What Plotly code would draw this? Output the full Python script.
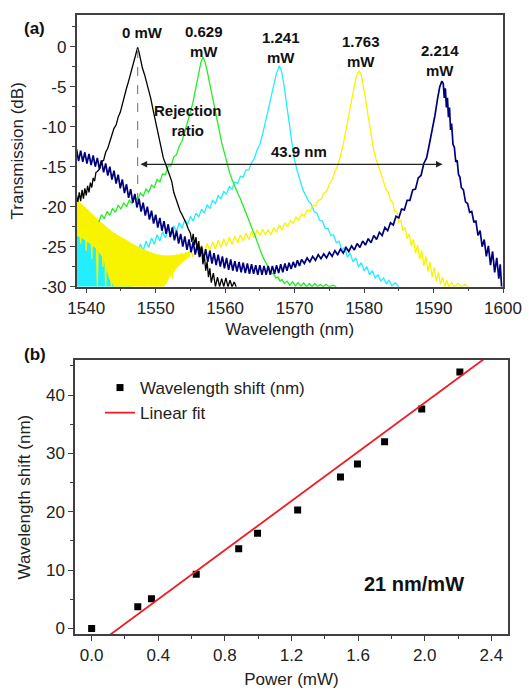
import plotly.graph_objects as go

# ---------------- Panel (a): transmission spectra (wavelength nm, dB) ----------------
black_0mW = [
    (1538.6, -18.6), (1538.8, -19.4), (1539.0, -18.2), (1539.2, -19.3), (1539.4, -17.9), (1539.6, -19.0),
    (1539.8, -17.7), (1540.0, -18.6), (1540.2, -17.4), (1540.4, -18.2), (1540.6, -17.0), (1540.8, -17.6),
    (1541.0, -16.4), (1541.2, -16.8), (1541.4, -15.7), (1541.6, -15.6), (1541.9, -15.3), (1542.2, -14.4),
    (1542.5, -14.2), (1542.8, -13.2), (1543.1, -12.7), (1543.4, -11.9), (1543.7, -11.2), (1544.0, -10.2),
    (1544.3, -9.8), (1544.6, -8.8), (1544.9, -8.2), (1545.2, -7.1), (1545.5, -6.3), (1545.8, -5.2),
    (1546.1, -4.3), (1546.4, -3.3), (1546.7, -2.2), (1547.0, -1.2), (1547.2, -0.6), (1547.4, -0.1),
    (1547.6, -0.7), (1547.8, -1.6), (1548.1, -2.7), (1548.4, -3.5), (1548.7, -4.4), (1549.0, -5.3),
    (1549.3, -6.5), (1549.6, -7.8), (1549.9, -9.1), (1550.2, -10.4), (1550.5, -11.6), (1550.8, -12.8),
    (1551.1, -13.9), (1551.4, -14.6), (1551.7, -15.4), (1552.0, -16.1), (1552.3, -16.8), (1552.6, -18.2),
    (1552.9, -19.0), (1553.2, -19.8), (1553.5, -20.5), (1553.8, -21.0), (1554.1, -21.5), (1554.4, -22.1),
    (1554.7, -22.8), (1555.0, -23.3), (1555.2, -24.4), (1555.4, -23.4), (1555.6, -24.8), (1555.8, -23.8),
    (1556.0, -25.4), (1556.2, -24.3), (1556.4, -26.2), (1556.6, -25.0), (1556.8, -27.2), (1557.0, -26.0),
    (1557.2, -28.0), (1557.4, -26.9), (1557.6, -28.8), (1557.8, -27.7), (1558.0, -29.5), (1558.3, -28.3),
    (1558.6, -30.0), (1558.9, -28.8), (1559.2, -30.0), (1559.5, -29.0), (1559.8, -30.0), (1560.1, -28.9),
    (1560.4, -30.0), (1560.7, -29.2), (1561.0, -30.0), (1561.3, -29.4), (1561.6, -30.0),
]

green_0629mW = [
    (1541.8, -21.9), (1542.2, -21.0), (1542.6, -21.5), (1543.0, -20.6), (1543.4, -21.1), (1543.8, -20.2),
    (1544.2, -20.7), (1544.6, -19.8), (1545.0, -20.3), (1545.4, -19.5), (1545.8, -20.0), (1546.2, -19.2),
    (1546.6, -19.6), (1547.0, -18.8), (1547.4, -19.2), (1547.8, -18.3), (1548.2, -18.7), (1548.6, -17.8),
    (1549.0, -18.2), (1549.4, -17.3), (1549.8, -17.6), (1550.2, -16.6), (1550.6, -16.9), (1551.0, -15.9),
    (1551.4, -16.0), (1551.8, -14.9), (1552.2, -14.9), (1552.6, -13.8), (1553.0, -13.5), (1553.4, -12.4),
    (1553.8, -11.8), (1554.2, -10.6), (1554.6, -9.6), (1555.0, -8.2), (1555.4, -6.8), (1555.8, -5.0),
    (1556.2, -3.3), (1556.5, -2.0), (1556.8, -1.3), (1557.1, -1.9), (1557.4, -3.0), (1557.7, -4.3),
    (1558.0, -5.6), (1558.3, -7.0), (1558.6, -8.4), (1558.9, -9.6), (1559.2, -10.9), (1559.5, -12.0),
    (1559.8, -13.0), (1560.1, -14.0), (1560.4, -14.9), (1560.7, -15.9), (1561.0, -16.6), (1561.3, -17.3),
    (1561.6, -17.9), (1561.9, -18.5), (1562.2, -19.0), (1562.5, -19.7), (1562.8, -20.4), (1563.1, -21.0),
    (1563.4, -21.7), (1563.7, -22.3), (1564.0, -23.0), (1564.3, -23.6), (1564.6, -24.4), (1564.9, -25.1),
    (1565.2, -25.8), (1565.5, -26.4), (1565.8, -27.0), (1566.1, -27.4), (1566.4, -27.9), (1566.7, -28.3),
    (1567.0, -28.4), (1567.3, -28.9), (1567.6, -28.8), (1567.9, -29.3), (1568.2, -29.1), (1568.5, -29.6),
    (1568.9, -29.3), (1569.3, -29.8), (1569.7, -29.4), (1570.1, -29.9), (1570.5, -29.5), (1570.9, -29.9),
    (1571.3, -29.5), (1571.7, -30.0), (1572.1, -29.6), (1572.5, -30.0), (1572.9, -29.6), (1573.3, -30.0),
    (1573.7, -29.7), (1574.1, -30.0), (1574.5, -29.7), (1575.0, -30.0), (1575.5, -29.8), (1576.0, -30.0),
]

cyan_1241mW = [
    (1538.6, -23.0), (1538.8, -25.0), (1539.0, -22.6), (1539.2, -24.8), (1539.4, -22.9), (1539.6, -25.2),
    (1539.8, -23.3), (1540.0, -25.6), (1540.2, -23.6), (1540.4, -25.9), (1540.6, -23.9), (1540.8, -26.3),
    (1541.0, -24.2), (1541.2, -26.7), (1541.4, -24.5), (1541.6, -27.0), (1541.8, -24.8), (1542.0, -27.3),
    (1542.2, -25.0), (1542.4, -27.5), (1542.6, -25.3), (1542.8, -27.8), (1543.0, -25.6), (1543.3, -28.0),
    (1543.6, -25.9), (1543.9, -27.9), (1544.2, -26.1), (1544.5, -27.6), (1544.8, -26.0), (1545.1, -27.3),
    (1545.4, -25.8), (1545.8, -26.9), (1546.2, -25.5), (1546.6, -26.4), (1547.0, -25.1), (1547.4, -25.9),
    (1547.8, -24.7), (1548.2, -25.5), (1548.6, -24.3), (1549.0, -25.1), (1549.4, -23.9), (1549.8, -24.7),
    (1550.2, -23.5), (1550.6, -24.3), (1551.0, -23.1), (1551.4, -23.9), (1551.8, -22.7), (1552.2, -23.5),
    (1552.6, -22.4), (1553.0, -23.1), (1553.4, -22.0), (1553.8, -22.7), (1554.2, -21.6), (1554.6, -22.2),
    (1555.0, -21.2), (1555.4, -21.8), (1555.8, -20.8), (1556.2, -21.3), (1556.6, -20.3), (1557.0, -20.8),
    (1557.4, -19.8), (1557.8, -20.2), (1558.2, -19.2), (1558.6, -19.6), (1559.0, -18.6), (1559.4, -19.0),
    (1559.8, -18.1), (1560.2, -18.4), (1560.6, -17.5), (1561.0, -17.8), (1561.4, -16.9), (1561.8, -17.1),
    (1562.2, -16.2), (1562.6, -16.3), (1563.0, -15.4), (1563.4, -15.4), (1563.8, -14.5), (1564.2, -14.0),
    (1564.6, -12.9), (1565.0, -12.2), (1565.4, -10.9), (1565.8, -9.5), (1566.2, -7.9), (1566.6, -6.3),
    (1567.0, -4.7), (1567.4, -3.3), (1567.8, -2.4), (1568.1, -3.0), (1568.4, -4.4), (1568.8, -6.6),
    (1569.2, -9.4), (1569.6, -12.0), (1570.0, -14.2), (1570.4, -15.6), (1570.8, -16.8), (1571.2, -17.9),
    (1571.6, -18.6), (1572.0, -19.3), (1572.4, -19.7), (1572.8, -20.6), (1573.2, -20.8), (1573.6, -21.7),
    (1574.0, -21.8), (1574.4, -22.7), (1574.8, -22.7), (1575.2, -23.6), (1575.6, -23.5), (1576.0, -24.5),
    (1576.4, -24.3), (1576.8, -25.4), (1577.2, -25.1), (1577.6, -26.3), (1578.0, -25.8), (1578.4, -26.9),
    (1578.8, -26.4), (1579.2, -27.5), (1579.6, -27.0), (1580.0, -28.0), (1580.4, -27.5), (1580.8, -28.5),
    (1581.2, -28.0), (1581.6, -28.9), (1582.0, -28.5), (1582.4, -29.3), (1582.8, -28.9), (1583.2, -29.6),
    (1583.6, -29.2), (1584.0, -29.9), (1584.5, -29.5), (1585.0, -30.0),
]
# dense noise floor of the cyan trace at short wavelengths: (wavelength, upper edge dB); lower edge is -30
cyan_noise_top = [
    (1538.6, -22.8), (1539.5, -23.2), (1540.5, -23.8), (1541.5, -24.3), (1542.5, -24.9),
    (1543.5, -25.6), (1544.5, -26.3), (1545.5, -27.0), (1546.5, -27.6),
]

yellow_1763mW = [
    (1538.6, -19.1), (1538.8, -23.5), (1539.0, -19.4), (1539.2, -24.6), (1539.4, -19.7), (1539.6, -24.0),
    (1539.8, -20.0), (1540.0, -25.5), (1540.2, -20.4), (1540.4, -24.4), (1540.6, -20.8), (1540.8, -26.5),
    (1541.0, -21.1), (1541.2, -25.0), (1541.4, -21.4), (1541.6, -30.0), (1541.8, -21.7), (1542.0, -25.8),
    (1542.2, -22.0), (1542.4, -27.5), (1542.6, -22.3), (1542.8, -30.0), (1543.0, -22.6), (1543.2, -28.0),
    (1543.4, -22.8), (1543.6, -30.0), (1543.8, -23.1), (1544.0, -29.0), (1544.2, -23.3), (1544.4, -30.0),
    (1544.6, -23.6), (1544.8, -28.5), (1545.0, -23.8), (1545.2, -30.0), (1545.4, -24.0), (1545.6, -29.0),
    (1545.8, -24.2), (1546.0, -30.0), (1546.2, -24.4), (1546.4, -28.5), (1546.6, -24.6), (1546.8, -30.0),
    (1547.0, -24.8), (1547.2, -29.0), (1547.4, -25.0), (1547.6, -30.0), (1547.8, -25.2), (1548.0, -28.8),
    (1548.2, -25.3), (1548.4, -30.0), (1548.6, -25.5), (1548.8, -29.0), (1549.0, -25.6), (1549.2, -30.0),
    (1549.4, -25.7), (1549.6, -28.5), (1549.8, -25.9), (1550.0, -30.0), (1550.2, -26.0), (1550.4, -29.0),
    (1550.6, -26.0), (1550.8, -30.0), (1551.0, -26.1), (1551.2, -28.5), (1551.4, -26.1), (1551.6, -29.5),
    (1551.8, -26.1), (1552.0, -28.2), (1552.2, -26.1), (1552.4, -29.0), (1552.6, -26.0), (1552.8, -27.8),
    (1553.1, -25.9), (1553.4, -27.4), (1553.7, -25.8), (1554.0, -26.8), (1554.3, -25.7), (1554.6, -26.4),
    (1555.0, -25.3), (1555.4, -26.3), (1555.8, -25.0), (1556.2, -26.0), (1556.6, -24.8), (1557.0, -25.7),
    (1557.4, -24.6), (1557.8, -25.5), (1558.2, -24.4), (1558.6, -25.3), (1559.0, -24.2), (1559.4, -25.1),
    (1559.8, -24.0), (1560.2, -24.9), (1560.6, -23.8), (1561.0, -24.7), (1561.4, -23.7), (1561.8, -24.5),
    (1562.2, -23.5), (1562.6, -24.3), (1563.0, -23.3), (1563.4, -24.1), (1563.8, -23.1), (1564.2, -23.9),
    (1564.6, -22.9), (1565.0, -23.6), (1565.4, -22.8), (1565.8, -23.5), (1566.2, -22.9), (1566.6, -23.5),
    (1567.0, -22.6), (1567.4, -23.2), (1567.8, -22.3), (1568.2, -22.9), (1568.6, -22.0), (1569.0, -22.5),
    (1569.4, -21.7), (1569.8, -22.1), (1570.2, -21.3), (1570.6, -21.7), (1571.0, -20.9), (1571.4, -21.2),
    (1571.8, -20.4), (1572.2, -20.6), (1572.6, -19.8), (1573.0, -19.9), (1573.4, -19.2), (1573.8, -19.1),
    (1574.2, -18.3), (1574.6, -18.1), (1575.0, -17.2), (1575.4, -16.6), (1575.8, -15.6), (1576.2, -14.9),
    (1576.6, -13.6), (1577.0, -12.2), (1577.4, -10.4), (1577.8, -8.4), (1578.2, -6.6), (1578.6, -4.9),
    (1578.9, -3.7), (1579.3, -3.0), (1579.6, -3.6), (1579.9, -4.8), (1580.2, -6.4), (1580.5, -8.2),
    (1580.8, -10.0), (1581.1, -11.6), (1581.4, -13.0), (1581.7, -14.0), (1582.0, -14.8), (1582.3, -15.5),
    (1582.6, -16.5), (1582.9, -17.0), (1583.2, -17.9), (1583.5, -18.2), (1583.8, -19.2), (1584.1, -19.4),
    (1584.4, -20.6), (1584.7, -20.6), (1585.0, -21.9), (1585.3, -21.7), (1585.6, -23.0), (1585.9, -22.6),
    (1586.2, -24.0), (1586.5, -23.4), (1586.8, -24.9), (1587.1, -24.1), (1587.4, -25.8), (1587.7, -24.8),
    (1588.0, -26.6), (1588.3, -25.5), (1588.6, -27.4), (1588.9, -26.2), (1589.2, -28.1), (1589.5, -26.9),
    (1589.8, -28.8), (1590.1, -27.6), (1590.4, -29.3), (1590.7, -28.2), (1591.0, -29.7), (1591.3, -28.8),
    (1591.6, -30.0), (1591.9, -29.2), (1592.2, -30.0), (1592.6, -29.5), (1593.0, -30.0), (1593.5, -29.6),
    (1594.0, -30.0), (1594.5, -29.7), (1595.0, -30.0),
]
# dense noise band of the yellow trace at short wavelengths: (wavelength, upper dB, lower dB)
yellow_noise_band = [
    (1538.6, -19.2, -23.6), (1539.5, -19.8, -24.0), (1540.5, -20.6, -24.6), (1541.5, -21.4, -25.3),
    (1542.5, -22.2, -26.5), (1543.3, -22.8, -29.0), (1544.0, -23.3, -30.0), (1545.5, -24.0, -30.0),
    (1547.0, -24.8, -30.0), (1548.5, -25.4, -30.0), (1550.0, -25.9, -30.0), (1551.2, -26.1, -30.0),
    (1552.2, -26.1, -28.6), (1553.2, -26.0, -27.5), (1554.2, -25.8, -26.7), (1555.0, -25.5, -26.2),
]

navy_2214mW = [
    (1538.6, -12.8), (1538.9, -14.3), (1539.2, -13.0), (1539.5, -14.4), (1539.8, -13.2), (1540.1, -14.6),
    (1540.4, -13.4), (1540.7, -14.8), (1541.0, -13.6), (1541.3, -15.0), (1541.6, -13.9), (1541.9, -15.3),
    (1542.2, -14.2), (1542.5, -15.7), (1542.8, -14.6), (1543.1, -16.1), (1543.4, -15.0), (1543.7, -16.6),
    (1544.0, -15.5), (1544.3, -17.1), (1544.6, -16.0), (1544.9, -17.7), (1545.2, -16.6), (1545.5, -18.3),
    (1545.8, -17.2), (1546.1, -18.9), (1546.4, -17.8), (1546.7, -19.5), (1547.0, -18.4), (1547.3, -20.1),
    (1547.6, -19.0), (1547.9, -20.6), (1548.2, -19.5), (1548.5, -21.1), (1548.8, -20.0), (1549.1, -21.6),
    (1549.4, -20.5), (1549.7, -22.1), (1550.0, -21.0), (1550.3, -22.6), (1550.6, -21.4), (1550.9, -23.0),
    (1551.2, -21.8), (1551.5, -23.4), (1551.8, -22.2), (1552.1, -23.8), (1552.4, -22.6), (1552.7, -24.2),
    (1553.0, -23.0), (1553.3, -24.6), (1553.6, -23.4), (1553.9, -25.0), (1554.2, -23.7), (1554.5, -25.4),
    (1554.8, -24.1), (1555.1, -25.7), (1555.4, -24.4), (1555.7, -26.0), (1556.0, -24.7), (1556.3, -26.3),
    (1556.6, -25.0), (1556.9, -26.6), (1557.2, -25.3), (1557.5, -26.9), (1557.8, -25.5), (1558.1, -27.1),
    (1558.4, -25.8), (1558.7, -27.3), (1559.0, -26.0), (1559.3, -27.5), (1559.6, -26.2), (1559.9, -27.7),
    (1560.2, -26.4), (1560.5, -27.9), (1560.8, -26.6), (1561.1, -28.0), (1561.4, -26.8), (1561.7, -28.1),
    (1562.0, -26.9), (1562.3, -28.2), (1562.6, -27.0), (1562.9, -28.3), (1563.2, -27.1), (1563.5, -28.4),
    (1563.8, -27.2), (1564.1, -28.4), (1564.4, -27.3), (1564.7, -28.5), (1565.0, -27.3), (1565.3, -28.5),
    (1565.6, -27.4), (1565.9, -28.5), (1566.2, -27.4), (1566.5, -28.5), (1566.8, -27.4), (1567.1, -28.4),
    (1567.4, -27.3), (1567.7, -28.3), (1568.0, -27.2), (1568.3, -28.2), (1568.6, -27.1), (1568.9, -28.0),
    (1569.2, -27.0), (1569.5, -27.8), (1569.8, -26.9), (1570.1, -27.6), (1570.4, -26.7), (1570.7, -27.4),
    (1571.0, -26.6), (1571.4, -27.1), (1571.8, -26.4), (1572.2, -26.9), (1572.6, -26.2), (1573.0, -26.7),
    (1573.4, -26.0), (1573.8, -26.5), (1574.2, -25.9), (1574.6, -26.4), (1575.0, -25.7), (1575.4, -26.2),
    (1575.8, -25.5), (1576.2, -26.0), (1576.6, -25.3), (1577.0, -25.8), (1577.4, -25.1), (1577.8, -25.6),
    (1578.2, -24.9), (1578.6, -25.4), (1579.0, -24.6), (1579.4, -25.1), (1579.8, -24.3), (1580.2, -24.8),
    (1580.6, -24.0), (1581.0, -24.5), (1581.4, -23.6), (1581.8, -24.1), (1582.2, -23.2), (1582.6, -23.6),
    (1583.0, -22.6), (1583.4, -23.0), (1583.8, -22.0), (1584.2, -22.3), (1584.6, -21.2), (1585.0, -21.4),
    (1585.4, -20.3), (1585.8, -20.4), (1586.2, -19.2), (1586.6, -19.2), (1587.0, -17.9), (1587.4, -17.8),
    (1587.8, -16.4), (1588.2, -16.1), (1588.6, -14.6), (1589.0, -13.9), (1589.4, -12.2), (1589.8, -10.6),
    (1590.2, -8.6), (1590.6, -6.4), (1590.9, -5.0), (1591.2, -4.3), (1591.4, -4.6), (1591.55, -6.4),
    (1591.7, -5.2), (1591.85, -7.6), (1592.0, -6.4), (1592.15, -8.8), (1592.3, -7.6), (1592.45, -10.4),
    (1592.6, -9.6), (1592.8, -12.2), (1593.0, -12.6), (1593.2, -14.4), (1593.4, -14.2), (1593.6, -16.0),
    (1593.8, -16.3), (1594.0, -17.6), (1594.3, -17.9), (1594.6, -19.4), (1594.9, -19.6), (1595.2, -20.7),
    (1595.5, -20.6), (1595.8, -21.9), (1596.1, -21.8), (1596.4, -23.6), (1596.7, -23.0), (1597.0, -25.0),
    (1597.3, -24.1), (1597.6, -26.2), (1597.9, -24.9), (1598.2, -27.3), (1598.5, -25.6), (1598.8, -28.2),
    (1599.1, -26.4), (1599.4, -29.0), (1599.6, -27.2), (1599.8, -30.0),
]

spectra_names = ["0 mW", "0.629 mW", "1.241 mW", "1.763 mW", "2.214 mW"]
spectra_colors = ["#000000", "#22ee22", "#22eeff", "#f8f400", "#00007e"]
spectra_widths = [1.3, 1.3, 1.3, 1.3, 1.7]
spectra_data = [black_0mW, green_0629mW, cyan_1241mW, yellow_1763mW, navy_2214mW]
draw_order = [2, 3, 1, 4, 0]   # cyan, yellow, green, navy, black on top

# peak labels: (text, wavelength, dB)
peak_labels = [("0 mW", 1548.1, 1.75), ("0.629<br>mW", 1556.9, 0.7), ("1.241<br>mW", 1568.1, -0.1),
               ("1.763<br>mW", 1579.5, -0.65), ("2.214<br>mW", 1591.0, -1.7)]
shift_arrow_nm = [1547.6, 1591.3]
shift_arrow_db = -14.7
rejection_line_nm = 1547.4
rejection_line_db = [-0.3, -19.0]

a_xticks = [1540, 1550, 1560, 1570, 1580, 1590, 1600]
a_yticks = [0, -5, -10, -15, -20, -25, -30]
a_yticklabels = ["0", "-5", "-10", "-15", "-20", "-25", "-30"]

# ---------------- Panel (b): wavelength shift vs power ----------------
power_mW = [0.0, 0.277, 0.359, 0.628, 0.883, 0.996, 1.237, 1.494, 1.596, 1.759, 1.982, 2.211]
shift_nm = [0.0, 3.7, 5.1, 9.3, 13.65, 16.3, 20.3, 25.95, 28.2, 32.0, 37.6, 43.96]
fit_power = [0.10, 2.40]
fit_shift = [-1.3, 47.1]
b_xticks = [0.0, 0.4, 0.8, 1.2, 1.6, 2.0, 2.4]
b_yticks = [0, 10, 20, 30, 40]

FONT = "Liberation Sans, Arial, sans-serif"
W, H = 529, 692
TXT = "#222222"

fig = go.Figure()

# cyan noise floor (filled band down to the -30 dB axis)
fig.add_trace(go.Scatter(
    x=[p[0] for p in cyan_noise_top] + [p[0] for p in reversed(cyan_noise_top)],
    y=[p[1] for p in cyan_noise_top] + [-30.0] * len(cyan_noise_top),
    fill="toself", fillcolor=spectra_colors[2], mode="none", showlegend=False,
    hoverinfo="skip", xaxis="x", yaxis="y"))

for i in draw_order:
    if i == 3:
        band = yellow_noise_band
        fig.add_trace(go.Scatter(
            x=[b[0] for b in band] + [b[0] for b in reversed(band)],
            y=[b[1] for b in band] + [b[2] for b in reversed(band)],
            fill="toself", fillcolor=spectra_colors[3], mode="none", showlegend=False,
            hoverinfo="skip", xaxis="x", yaxis="y"))
    pts = spectra_data[i]
    fig.add_trace(go.Scatter(
        x=[p[0] for p in pts], y=[p[1] for p in pts], mode="lines",
        line=dict(color=spectra_colors[i], width=spectra_widths[i]), name=spectra_names[i],
        showlegend=False, xaxis="x", yaxis="y"))

fig.add_trace(go.Scatter(
    x=power_mW, y=shift_nm, mode="markers", name="Wavelength shift (nm)",
    marker=dict(symbol="square", size=7, color="black"), xaxis="x2", yaxis="y2"))
fig.add_trace(go.Scatter(
    x=fit_power, y=fit_shift, mode="lines", name="Linear fit",
    line=dict(color="#ee1c24", width=1.8), xaxis="x2", yaxis="y2"))

axis_common = dict(showline=True, linecolor="#404040", linewidth=1.5, mirror=True,
                   ticks="outside", ticklen=5, tickwidth=1.2, tickcolor="#404040",
                   showgrid=False, zeroline=False, automargin=False,
                   tickfont=dict(family=FONT, size=17, color=TXT),
                   title_font=dict(family=FONT, size=17, color=TXT))
minor_common = dict(ticks="outside", ticklen=3, tickcolor="#404040", tickwidth=1.2)

fig.update_layout(
    width=W, height=H, margin=dict(l=0, r=0, t=0, b=0, autoexpand=False),
    paper_bgcolor="white", plot_bgcolor="white",
    xaxis=dict(domain=[76.5 / W, 503 / W], anchor="y", range=[1538.6, 1600],
               tickvals=a_xticks, minor=dict(dtick=5, **minor_common),
               title=dict(text="Wavelength (nm)", standoff=6), **axis_common),
    yaxis=dict(domain=[1 - 286.7 / H, 1 - 15 / H], anchor="x", range=[-30, 3.96],
               tickvals=a_yticks, ticktext=a_yticklabels,
               minor=dict(dtick=2.5, **minor_common),
               title=dict(text="Transmission (dB)", standoff=14), **axis_common),
    xaxis2=dict(domain=[75 / W, 508 / W], anchor="y2", range=[-0.1, 2.5],
                tickvals=b_xticks, tickformat=".1f",
                minor=dict(dtick=0.2, **minor_common),
                title=dict(text="Power (mW)", standoff=9), **axis_common),
    yaxis2=dict(domain=[1 - 634.3 / H, 1 - 360 / H], anchor="x2", range=[-1, 46],
                tickvals=b_yticks,
                minor=dict(dtick=5, **minor_common),
                title=dict(text="Wavelength shift (nm)", standoff=11), **axis_common),
    legend=dict(x=100 / W, y=1 - 370 / H, xanchor="left", yanchor="top",
                bgcolor="rgba(0,0,0,0)", font=dict(family=FONT, size=17, color=TXT),
                tracegroupgap=0),
    showlegend=True,
)

bold = dict(family=FONT, size=15, color="#111111")
for txt, xv, yv in peak_labels:
    fig.add_annotation(x=xv, y=yv, xref="x", yref="y", text="<b>%s</b>" % txt,
                       showarrow=False, font=bold, align="center")

fig.add_annotation(x=1554.6, y=-9.25, xref="x", yref="y", text="<b>Rejection<br>ratio</b>",
                   showarrow=False, font=bold, align="center")
fig.add_annotation(x=1570.7, y=-13.05, xref="x", yref="y", text="<b>43.9 nm</b>",
                   showarrow=False, font=bold)
fig.add_annotation(x=shift_arrow_nm[1], y=shift_arrow_db, ax=shift_arrow_nm[0], ay=shift_arrow_db,
                   xref="x", yref="y", axref="x", ayref="y", text="", showarrow=True,
                   arrowhead=2, arrowside="end+start", arrowsize=1.1, arrowwidth=1.2,
                   arrowcolor="#222222")
fig.add_shape(type="line", xref="x", yref="y", x0=rejection_line_nm, x1=rejection_line_nm,
              y0=rejection_line_db[0], y1=rejection_line_db[1],
              line=dict(color="#888888", width=1.2, dash="dash"))

fig.add_annotation(x=1.934, y=7.7, xref="x2", yref="y2", text="<b>21 nm/mW</b>",
                   showarrow=False, font=dict(family=FONT, size=20, color="#111111"))

fig.add_annotation(x=22 / W, y=1 - 17 / H, xref="paper", yref="paper", text="<b>(a)</b>",
                   showarrow=False, font=dict(family=FONT, size=17, color="#111111"))
fig.add_annotation(x=22 / W, y=1 - 355 / H, xref="paper", yref="paper", text="<b>(b)</b>",
                   showarrow=False, font=dict(family=FONT, size=17, color="#111111"))

fig.write_html("out.html", config={"displayModeBar": False},
               post_script="document.body.style.margin='0';document.body.style.overflow='hidden';")
